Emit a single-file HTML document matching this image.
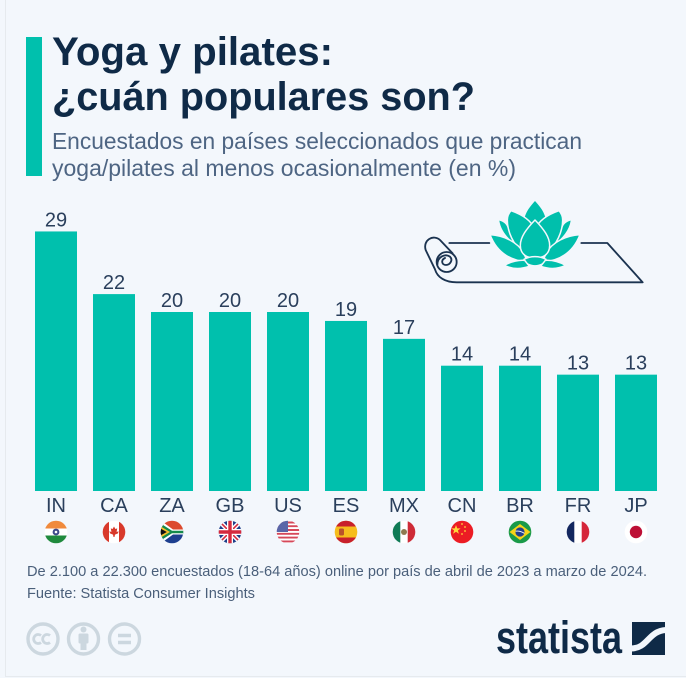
<!DOCTYPE html>
<html lang="es">
<head>
<meta charset="utf-8">
<title>Yoga y pilates: ¿cuán populares son?</title>
<style>
html,body{margin:0;padding:0;background:#f3f7fc;width:686px;height:678px;overflow:hidden}
svg{display:block}
text{font-family:"Liberation Sans",sans-serif}
</style>
</head>
<body>
<svg id="chart" xmlns="http://www.w3.org/2000/svg" width="686" height="678" viewBox="0 0 686 678">
  <defs>
    <clipPath id="flag-clip"><circle cx="0" cy="0" r="11.3"/></clipPath>
  </defs>
  <rect width="686" height="678" fill="#f3f7fc"/>
  <rect x="5" y="0" width="1" height="677" fill="#e6eaee"/>
  <rect x="5" y="676" width="681" height="1" fill="#e6eaee"/>
  <rect x="26" y="37" width="16" height="139" fill="#00c0ad"/>

  <text x="52" y="65" font-size="40" font-weight="700" fill="#0f2a47" textLength="281" lengthAdjust="spacingAndGlyphs">Yoga y pilates:</text>
  <text x="52" y="110" font-size="40" font-weight="700" fill="#0f2a47" textLength="423" lengthAdjust="spacingAndGlyphs">¿cuán populares son?</text>
  <text x="52" y="149" font-size="23.500" fill="#4e6583" textLength="530" lengthAdjust="spacingAndGlyphs">Encuestados en países seleccionados que practican</text>
  <text x="52" y="176" font-size="23.500" fill="#4e6583" textLength="464" lengthAdjust="spacingAndGlyphs">yoga/pilates al menos ocasionalmente (en %)</text>

  <g id="bars"></g>

  <g transform="translate(400 190) scale(.33333)">
    <g fill="none" stroke="#1b3350" stroke-width="5.500" stroke-linecap="round" stroke-linejoin="round">
      <path d="M148 159H268"/>
      <path d="M544 159H622L728 277H170C135 277 112 262 105 238L77 180C68 150 100 132 120 150L158 190"/>
      <circle cx="140" cy="216" r="30"/>
      <path d="M112 225C112 200 135 190 150 200C160 210 150 225 138 225C125 225 122 210 135 204"/>
    </g>
    <g fill="#00bfac" stroke="#f3f7fc" stroke-width="4.500" stroke-linejoin="round">
      <path d="M405 33C385 55 370 75 370 112H440C440 75 425 55 405 33Z" stroke="none"/>
      <path d="M298 92C312 96 318 102 322 112L350 165C322 145 302 120 298 92Z" stroke="none"/>
      <path d="M512 92C498 96 492 102 488 112L460 165C488 145 508 120 512 92Z" stroke="none"/>
      <path d="M333 62C362 72 392 88 405 118L375 195C338 165 322 122 322 90C322 78 326 70 333 62Z"/>
      <path d="M477 62C448 72 418 88 405 118L435 195C472 165 488 122 488 90C488 78 484 70 477 62Z"/>
      <path d="M270 134C312 137 352 155 372 190L382 216C330 212 290 186 270 134Z"/>
      <path d="M540 134C498 137 458 155 438 190L428 216C480 212 520 186 540 134Z"/>
      <path d="M405 90C432 118 449 142 449 166C449 192 428 208 405 200C382 208 361 192 361 166C361 142 378 118 405 90Z"/>
      <path d="M372 208C392 197 418 197 438 208C432 234 378 234 372 208Z"/>
      <path d="M313 226C335 214 358 210 374 211L388 229C362 238 335 237 313 226Z"/>
      <path d="M497 226C475 214 452 210 436 211L422 229C448 238 475 237 497 226Z"/>
    </g>
  </g>

  <g transform="translate(56 532)" clip-path="url(#flag-clip)">
    <rect x="-12" y="-12" width="24" height="24" fill="#fff"/>
    <rect x="-12" y="-12" width="24" height="8.500" fill="#f08a3c"/>
    <rect x="-12" y="3.500" width="24" height="8.500" fill="#1f8a3d"/>
    <circle r="3.400" fill="#3d4a8a"/><circle r="1.300" fill="#fff"/>
  </g>
  <g transform="translate(114 532)" clip-path="url(#flag-clip)">
    <rect x="-12" y="-12" width="24" height="24" fill="#fff"/>
    <rect x="-12" y="-12" width="7" height="24" fill="#d8392b"/>
    <rect x="5" y="-12" width="7" height="24" fill="#d8392b"/>
    <path d="M0-5.500L1.400-3L3.200-3.600L2.600 0L4.600-.8L4 1.400L1 2.600L.5 5H-.5L-1 2.600L-4 1.400L-4.600-.8L-2.600 0L-3.200-3.600L-1.400-3Z" fill="#d8392b"/>
  </g>
  <g transform="translate(172 532)" clip-path="url(#flag-clip)">
    <rect x="-12" y="-12" width="24" height="12" fill="#dc4a2e"/>
    <rect x="-12" y="0" width="24" height="12" fill="#1d3f8f"/>
    <path d="M-12-12L1-2.500H12V2.500H1L-12 12Z" fill="#fff"/>
    <path d="M-12-9L0-1.200H12V1.200H0L-12 9Z" fill="#148a4c"/>
    <path d="M-12-6L-2 0L-12 6Z" fill="#f6bf2c"/>
    <path d="M-12-3.800L-5.200 0L-12 3.800Z" fill="#111"/>
  </g>
  <g transform="translate(230 532)" clip-path="url(#flag-clip)">
    <rect x="-12" y="-12" width="24" height="24" fill="#1f3f8a"/>
    <path d="M-12-12L12 12M12-12L-12 12" stroke="#fff" stroke-width="4.500"/>
    <path d="M-12-12L12 12M12-12L-12 12" stroke="#d42a3e" stroke-width="1.600"/>
    <path d="M0-12V12M-12 0H12" stroke="#fff" stroke-width="6"/>
    <path d="M0-12V12M-12 0H12" stroke="#d42a3e" stroke-width="3.400"/>
  </g>
  <g transform="translate(288 532)" clip-path="url(#flag-clip)">
    <rect x="-12" y="-12" width="24" height="24" fill="#fff"/>
    <path d="M-12-9.500H12M-12-5.800H12M-12-2H12M-12 1.800H12M-12 5.600H12M-12 9.400H12" stroke="#d6485a" stroke-width="1.900"/>
    <rect x="-12" y="-12" width="12" height="12" fill="#5a66a8"/>
  </g>
  <g transform="translate(346 532)" clip-path="url(#flag-clip)">
    <rect x="-12" y="-12" width="24" height="24" fill="#f6bd1d"/>
    <rect x="-12" y="-12" width="24" height="6.500" fill="#c8202c"/>
    <rect x="-12" y="5.500" width="24" height="6.500" fill="#c8202c"/>
    <rect x="-7" y="-3.500" width="5" height="7" rx="1.500" fill="#b9522a"/>
  </g>
  <g transform="translate(404 532)" clip-path="url(#flag-clip)">
    <rect x="-12" y="-12" width="24" height="24" fill="#fff"/>
    <rect x="-12" y="-12" width="8.300" height="24" fill="#0f7a55"/>
    <rect x="3.700" y="-12" width="8.300" height="24" fill="#ce2b37"/>
    <circle r="3" fill="#8f7a50"/>
  </g>
  <g transform="translate(462 532)" clip-path="url(#flag-clip)">
    <rect x="-12" y="-12" width="24" height="24" fill="#ec1c24"/>
    <path d="M-6-7L-4.800-3.600L-1.400-3.600L-4.100-1.500L-3.100 1.800L-6-.2L-8.900 1.800L-7.900-1.500L-10.600-3.600L-7.200-3.600Z" fill="#ffd83a"/>
    <g fill="#ffd83a"><circle cx="0" cy="-8" r=".9"/><circle cx="3" cy="-5" r=".9"/><circle cx="3" cy="-1" r=".9"/><circle cx="0" cy="2" r=".9"/></g>
  </g>
  <g transform="translate(520 532)" clip-path="url(#flag-clip)">
    <rect x="-12" y="-12" width="24" height="24" fill="#1a9a49"/>
    <path d="M-10.500 0L0-8L10.500 0L0 8Z" fill="#f7d417"/>
    <circle r="4.600" fill="#243f8c"/>
    <path d="M-4.400-.8Q0-1.600 4.400 1.400" stroke="#fff" stroke-width=".9" fill="none"/>
  </g>
  <g transform="translate(578 532)" clip-path="url(#flag-clip)">
    <rect x="-12" y="-12" width="24" height="24" fill="#fff"/>
    <rect x="-12" y="-12" width="8.300" height="24" fill="#13275f"/>
    <rect x="3.700" y="-12" width="8.300" height="24" fill="#d5263a"/>
  </g>
  <g transform="translate(636 532)" clip-path="url(#flag-clip)">
    <rect x="-12" y="-12" width="24" height="24" fill="#fff"/>
    <circle r="6.200" fill="#bd0f35"/>
  </g>

  <text x="27" y="576" font-size="14.500" fill="#4a5f7a" textLength="620" lengthAdjust="spacingAndGlyphs">De 2.100 a 22.300 encuestados (18-64 años) online por país de abril de 2023 a marzo de 2024.</text>
  <text x="27" y="598" font-size="14.500" fill="#4a5f7a" textLength="228" lengthAdjust="spacingAndGlyphs">Fuente: Statista Consumer Insights</text>

  <g fill="none" stroke="#ccd7df" stroke-width="3.400">
    <circle cx="43" cy="639" r="15"/>
    <circle cx="83.500" cy="639" r="15"/>
    <circle cx="124.500" cy="639" r="15"/>
    <path d="M41 635.500A4.500 4.500 0 1 0 41 642.500M50 635.500A4.500 4.500 0 1 0 50 642.500" stroke-width="2.800"/>
    <path d="M118 635.500H131M118 642.500H131" stroke-width="3.400"/>
    <g fill="#ccd7df" stroke="none">
      <circle cx="83.500" cy="629.500" r="3"/>
      <rect x="78.500" y="633.500" width="10" height="10" rx="1.500"/>
      <rect x="80.500" y="640" width="6" height="10"/>
    </g>
  </g>

  <text x="496" y="653" font-size="45" font-weight="700" fill="#0f2a47" textLength="126" lengthAdjust="spacingAndGlyphs">statista</text>
  <g>
    <rect x="632" y="622" width="33" height="33" fill="#0f2a47"/>
    <path d="M631 648.500C648 648.500 648 631 666 630" fill="none" stroke="#f3f7fc" stroke-width="6"/>
  </g>
</svg>
<script>
const categories = ["IN","CA","ZA","GB","US","ES","MX","CN","BR","FR","JP"];
const shareValues = [29,22,20,20,20,19,17,14,14,13,13];

const barsGroup = document.getElementById('bars');
const NS = 'http://www.w3.org/2000/svg';
const xBand = function (i) { return 35 + i * 58; };
const yScale = function (v) { return 491 - v * 8.95; };
const barWidth = 42;

categories.forEach(function (cat, i) {
  const v = shareValues[i];
  const bar = document.createElementNS(NS, 'rect');
  
  
  bar.setAttribute('x', xBand(i));
  bar.setAttribute('y', yScale(v));
  bar.setAttribute('width', barWidth);
  bar.setAttribute('height', 491 - yScale(v));
  bar.setAttribute('fill', '#00c0ad');
  barsGroup.appendChild(bar);

  const val = document.createElementNS(NS, 'text');
  
  
  val.setAttribute('x', xBand(i) + barWidth / 2);
  val.setAttribute('y', yScale(v) - 5);
  val.setAttribute('text-anchor', 'middle');
  val.setAttribute('font-size', '20');
  val.setAttribute('fill', '#2a3f5c');
  val.textContent = String(v);
  barsGroup.appendChild(val);

  const lab = document.createElementNS(NS, 'text');
  
  
  lab.setAttribute('x', xBand(i) + barWidth / 2);
  lab.setAttribute('y', 512);
  lab.setAttribute('text-anchor', 'middle');
  lab.setAttribute('font-size', '20');
  lab.setAttribute('fill', '#2a3f5c');
  lab.textContent = cat;
  barsGroup.appendChild(lab);
});
</script>
</body>
</html>
